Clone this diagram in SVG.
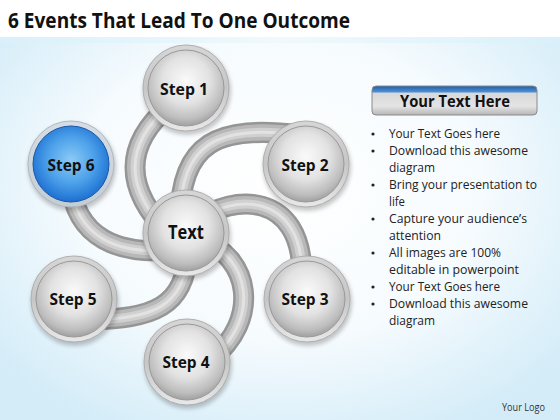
<svg xmlns="http://www.w3.org/2000/svg" width="560" height="420" viewBox="0 0 560 420">
<defs>
<radialGradient id="bg" cx="0.5" cy="0.45" r="0.65">
<stop offset="0" stop-color="#ffffff"/>
<stop offset="0.55" stop-color="#f6fbfe"/>
<stop offset="1" stop-color="#d3ecf8"/>
</radialGradient>
<linearGradient id="ring" x1="0" y1="0" x2="0" y2="1">
<stop offset="0" stop-color="#d6d6d6"/>
<stop offset="0.5" stop-color="#c6c6c6"/>
<stop offset="1" stop-color="#e8e8e8"/>
</linearGradient>
<radialGradient id="ball" cx="0.5" cy="0.4" r="0.62">
<stop offset="0" stop-color="#fafafa"/>
<stop offset="0.5" stop-color="#e2e2e2"/>
<stop offset="0.82" stop-color="#bdbdbd"/>
<stop offset="1" stop-color="#9a9a9a"/>
</radialGradient>
<radialGradient id="ballBlue" cx="0.5" cy="0.45" r="0.6">
<stop offset="0" stop-color="#8ccaf6"/>
<stop offset="0.5" stop-color="#4ea2ea"/>
<stop offset="0.85" stop-color="#2478d6"/>
<stop offset="1" stop-color="#1a5db8"/>
</radialGradient>
<linearGradient id="ringBlue" x1="0" y1="0" x2="0" y2="1">
<stop offset="0" stop-color="#d6dde4"/>
<stop offset="1" stop-color="#c4ccd4"/>
</linearGradient>
<linearGradient id="btn" x1="0" y1="0" x2="0" y2="1">
<stop offset="0" stop-color="#1f5ea8"/>
<stop offset="0.2" stop-color="#4b8fd6"/>
<stop offset="0.25" stop-color="#d8d8d8"/>
<stop offset="0.7" stop-color="#e4e4e4"/>
<stop offset="1" stop-color="#b6b6b6"/>
</linearGradient>
<linearGradient id="band" x1="0" y1="0" x2="1" y2="0">
<stop offset="0" stop-color="#d9f0fa"/>
<stop offset="0.5" stop-color="#f0f9fd"/>
<stop offset="1" stop-color="#d9f0fa"/>
</linearGradient>
<filter id="sh" x="-20%" y="-20%" width="140%" height="140%">
<feGaussianBlur stdDeviation="2"/>
</filter>
</defs>
<style>
.t{font-family:"Open Sans","Liberation Sans",sans-serif;fill:#111;}
.lbl{font-family:"Open Sans","Liberation Sans",sans-serif;font-weight:bold;font-size:16px;fill:#111;text-anchor:middle;}
.b{font-family:"Open Sans","Liberation Sans",sans-serif;font-size:12.5px;fill:#222;}
.t1{fill:none;stroke:#959595;stroke-width:21;stroke-linecap:butt;}
.t2{fill:none;stroke:#b8b8b8;stroke-width:16;}
.t3{fill:none;stroke:#d0d0d0;stroke-width:9;}
.t4{fill:none;stroke:#e2e2e2;stroke-width:3;}
.sh{fill:#000;opacity:0.22;filter:url(#sh);}
.rg{fill:url(#ring);stroke:#b0b0b0;stroke-width:1;}
.bl{fill:url(#ball);stroke:#999;stroke-width:1;}
</style>
<rect width="560" height="420" fill="url(#bg)"/>
<rect width="560" height="37" fill="#ffffff"/>
<rect y="37" width="560" height="6" fill="url(#band)"/>
<text class="t" x="8" y="28" font-size="22" font-weight="bold" textLength="342" lengthAdjust="spacingAndGlyphs">6 Events That Lead To One Outcome</text>

<g id="connectors">
<g id="tube1"><path class="t1" d="M170 105 Q100 165 170 235"/><path class="t2" d="M170 105 Q100 165 170 235"/><path class="t3" d="M170 105 Q100 165 170 235"/><path class="t4" d="M170 105 Q100 165 170 235"/></g>
<g id="tube2"><path class="t1" d="M180 225 C178 140 220 125 300 135"/><path class="t2" d="M180 225 C178 140 220 125 300 135"/><path class="t3" d="M180 225 C178 140 220 125 300 135"/><path class="t4" d="M180 225 C178 140 220 125 300 135"/></g>
<g id="tube3"><path class="t1" d="M200 220 C230 195 302 190 302 275"/><path class="t2" d="M200 220 C230 195 302 190 302 275"/><path class="t3" d="M200 220 C230 195 302 190 302 275"/><path class="t4" d="M200 220 C230 195 302 190 302 275"/></g>
<g id="tube4"><path class="t1" d="M200 240 C250 255 262 320 210 360"/><path class="t2" d="M200 240 C250 255 262 320 210 360"/><path class="t3" d="M200 240 C250 255 262 320 210 360"/><path class="t4" d="M200 240 C250 255 262 320 210 360"/></g>
<g id="tube5"><path class="t1" d="M188 245 C188 310 150 318 90 320"/><path class="t2" d="M188 245 C188 310 150 318 90 320"/><path class="t3" d="M188 245 C188 310 150 318 90 320"/><path class="t4" d="M188 245 C188 310 150 318 90 320"/></g>
<g id="tube6"><path class="t1" d="M70 180 C75 240 120 255 175 250"/><path class="t2" d="M70 180 C75 240 120 255 175 250"/><path class="t3" d="M70 180 C75 240 120 255 175 250"/><path class="t4" d="M70 180 C75 240 120 255 175 250"/></g>
</g>

<g id="step1">
<circle class="sh" cx="187" cy="91" r="44"/>
<circle class="rg" cx="186" cy="88" r="43"/>
<circle class="bl" cx="186" cy="88" r="38"/>
<text class="lbl" x="184" y="95" textLength="48" lengthAdjust="spacingAndGlyphs">Step 1</text>
</g>
<g id="step2">
<circle class="sh" cx="307" cy="167" r="44"/>
<circle class="rg" cx="306" cy="164" r="43"/>
<circle class="bl" cx="306" cy="164" r="38"/>
<text class="lbl" x="305" y="171" textLength="47" lengthAdjust="spacingAndGlyphs">Step 2</text>
</g>
<g id="step3">
<circle class="sh" cx="308" cy="302" r="44"/>
<circle class="rg" cx="307" cy="299" r="43"/>
<circle class="bl" cx="307" cy="299" r="38"/>
<text class="lbl" x="305" y="305" textLength="47" lengthAdjust="spacingAndGlyphs">Step 3</text>
</g>
<g id="step4">
<circle class="sh" cx="188" cy="365" r="44"/>
<circle class="rg" cx="187" cy="362" r="43"/>
<circle class="bl" cx="187" cy="362" r="38"/>
<text class="lbl" x="186" y="368" textLength="47" lengthAdjust="spacingAndGlyphs">Step 4</text>
</g>
<g id="step5">
<circle class="sh" cx="75" cy="302" r="44"/>
<circle class="rg" cx="74" cy="299" r="43"/>
<circle class="bl" cx="74" cy="299" r="38"/>
<text class="lbl" x="73" y="305" textLength="47" lengthAdjust="spacingAndGlyphs">Step 5</text>
</g>
<g id="step6">
<circle class="sh" cx="72" cy="167" r="44"/>
<circle cx="71" cy="164" r="43" fill="url(#ringBlue)" stroke="#b0b8c0"/>
<circle cx="71" cy="164" r="38" fill="url(#ballBlue)" stroke="#1a58a8"/>
<text class="lbl" x="71" y="171" textLength="47" lengthAdjust="spacingAndGlyphs">Step 6</text>
</g>
<g id="center">
<circle class="sh" cx="187" cy="236" r="44"/>
<circle class="rg" cx="186" cy="233" r="43"/>
<circle class="bl" cx="186" cy="233" r="38"/>
<text class="lbl" x="186" y="239" style="font-size:20px" textLength="36" lengthAdjust="spacingAndGlyphs">Text</text>
</g>

<g id="header">
<rect x="372" y="86" width="165" height="29" rx="4" fill="url(#btn)" stroke="#8a8a8a" stroke-width="1"/>
<text class="t" x="455" y="107" font-size="16" font-weight="bold" text-anchor="middle" textLength="110" lengthAdjust="spacingAndGlyphs">Your Text Here</text>
</g>

<g id="bullets">
<g fill="#222">
<circle cx="373" cy="134" r="1.6"/>
<circle cx="373" cy="151" r="1.6"/>
<circle cx="373" cy="185" r="1.6"/>
<circle cx="373" cy="219" r="1.6"/>
<circle cx="373" cy="253" r="1.6"/>
<circle cx="373" cy="287" r="1.6"/>
<circle cx="373" cy="304" r="1.6"/>
</g>
<text class="b" x="389" y="138" textLength="111" lengthAdjust="spacingAndGlyphs">Your Text Goes here</text>
<text class="b" x="389" y="155" textLength="139" lengthAdjust="spacingAndGlyphs">Download this awesome</text>
<text class="b" x="389" y="172" textLength="46" lengthAdjust="spacingAndGlyphs">diagram</text>
<text class="b" x="389" y="189" textLength="148" lengthAdjust="spacingAndGlyphs">Bring your presentation to</text>
<text class="b" x="389" y="206" textLength="16" lengthAdjust="spacingAndGlyphs">life</text>
<text class="b" x="389" y="223" textLength="138" lengthAdjust="spacingAndGlyphs">Capture your audience’s</text>
<text class="b" x="389" y="240" textLength="52" lengthAdjust="spacingAndGlyphs">attention</text>
<text class="b" x="389" y="257" textLength="112" lengthAdjust="spacingAndGlyphs">All images are 100%</text>
<text class="b" x="389" y="274" textLength="130" lengthAdjust="spacingAndGlyphs">editable in powerpoint</text>
<text class="b" x="389" y="291" textLength="111" lengthAdjust="spacingAndGlyphs">Your Text Goes here</text>
<text class="b" x="389" y="308" textLength="139" lengthAdjust="spacingAndGlyphs">Download this awesome</text>
<text class="b" x="389" y="325" textLength="46" lengthAdjust="spacingAndGlyphs">diagram</text>
</g>

<text class="t" x="502" y="411" font-size="11" style="fill:#333" textLength="43" lengthAdjust="spacingAndGlyphs">Your Logo</text>
</svg>
